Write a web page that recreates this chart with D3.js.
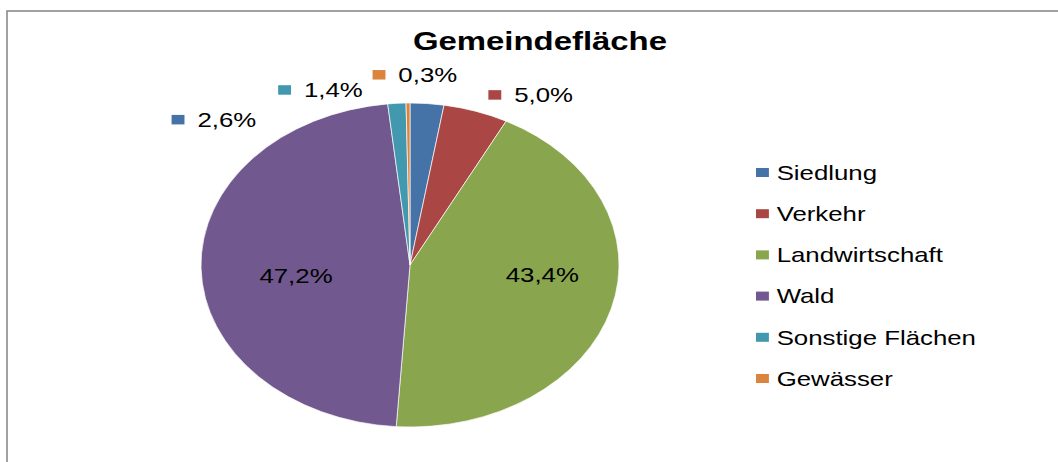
<!DOCTYPE html>
<html>
<head>
<meta charset="utf-8">
<script src="https://cdn.jsdelivr.net/npm/d3@7"></script>
<style>
  html, body { margin: 0; padding: 0; background: #fff; }
  svg { display: block; }
  text { font-family: "Liberation Sans", Arial, sans-serif; }
</style>
</head>
<body>
<svg id="chart" width="1058" height="462"></svg>
<script>
// ---- data ----
const title = "Gemeindefläche";
const categories = ["Siedlung", "Verkehr", "Landwirtschaft", "Wald", "Sonstige Flächen", "Gewässer"];
const values = [2.6, 5.0, 43.4, 47.2, 1.4, 0.3];
const colors = ["#4572A7", "#AA4643", "#89A54E", "#71588F", "#4198AF", "#DB843D"];

// ---- label layout (polar, as Excel arranged them) ----
const labelAngleDeg = [-46.3, 28.9, 95.3, 263.2, -21.6, 1.2];
const labelRadius   = [210, 194, 103, 89, 188, 190];
const labelOutside  = [true, true, false, false, true, true];

const W = 1058, H = 462;
const sx = 1.29;           // horizontal stretch of the original picture
const cx = 410 / sx, cy = 265, R = 162;

const svg = d3.select("#chart");

// frame
svg.append("rect")
  .attr("x", 7).attr("y", 11)
  .attr("width", 1200).attr("height", 600)
  .attr("fill", "#fff")
  .attr("stroke", "#8a8a8a")
  .attr("stroke-width", 1.6);

const g = svg.append("g").attr("transform", `scale(${sx},1)`);

// title
g.append("text")
  .attr("x", 540 / sx).attr("y", 50)
  .attr("text-anchor", "middle")
  .attr("font-size", 25.5)
  .attr("font-weight", "bold")
  .attr("fill", "#000")
  .text(title);

// pie
const pie = d3.pie().sort(null).value(d => d);
const arcs = pie(values);
const arc = d3.arc().innerRadius(0).outerRadius(R);

const pg = g.append("g").attr("transform", `translate(${cx},${cy})`);
pg.selectAll("path.slice")
  .data(arcs)
  .join("path")
  .attr("class", "slice")
  .attr("d", arc)
  .attr("fill", (d, i) => colors[i])
  .attr("stroke", "#fff")
  .attr("stroke-width", 0.6)
  .attr("stroke-linejoin", "round");

// data labels
const fmt = v => v.toFixed(1).replace(".", ",") + "%";
const fs = 20;
arcs.forEach((d, i) => {
  const [px, py] = d3.pointRadial(labelAngleDeg[i] * Math.PI / 180, labelRadius[i]);
  const lg = pg.append("g").attr("transform", `translate(${px},${py})`);
  if (labelOutside[i]) {
    lg.append("rect")
      .attr("x", -33).attr("y", -5)
      .attr("width", 10).attr("height", 9.5)
      .attr("fill", colors[i]);
    lg.append("text")
      .attr("x", -13).attr("y", 7.2)
      .attr("font-size", fs)
      .attr("fill", "#000")
      .text(fmt(values[i]));
  } else {
    lg.append("text")
      .attr("x", 0).attr("y", 7.2)
      .attr("text-anchor", "middle")
      .attr("font-size", fs)
      .attr("fill", "#000")
      .text(fmt(values[i]));
  }
});

// legend
const legendY = d3.scalePoint()
  .domain(categories)
  .range([172.5, 378.5]);
const lgX = 756 / sx;
const leg = g.append("g");
const items = leg.selectAll("g.item")
  .data(categories)
  .join("g")
  .attr("class", "item")
  .attr("transform", d => `translate(${lgX},${legendY(d)})`);
items.append("rect")
  .attr("x", 0).attr("y", -4.5)
  .attr("width", 10).attr("height", 9)
  .attr("fill", (d, i) => colors[i]);
items.append("text")
  .attr("x", 16).attr("y", 7.2)
  .attr("font-size", fs)
  .attr("fill", "#000")
  .text(d => d);
</script>
</body>
</html>
